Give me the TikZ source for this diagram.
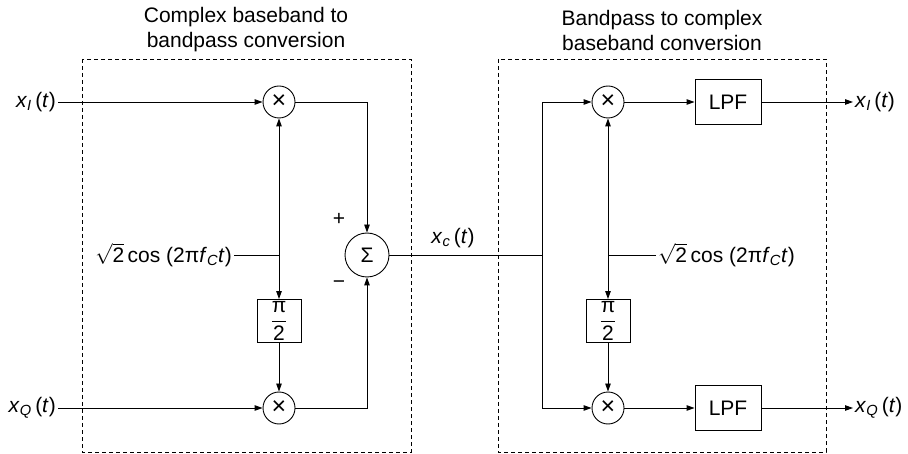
\documentclass[tikz,border=0pt]{standalone}
\usepackage{fontspec}
\setmainfont{Liberation Sans}
\usetikzlibrary{arrows.meta}
\newcommand{\sig}[1]{\textit{x}\textsubscript{\textit{#1}}\,(\textit{t})}
\newcommand{\osc}{$\sqrt{\mbox{2}}$\,cos (2π\textit{f}\textsubscript{\textit{C}}\textit{t})}
\newcommand{\halfpi}{$\displaystyle\frac{\mbox{π}}{\mbox{2}}$}
\begin{document}
\begin{tikzpicture}[x=1pt,y=-1pt,
  every node/.style={font=\fontsize{21}{25}\selectfont},
  wire/.style={line width=0.9pt},
  arr/.style={wire,-{Triangle[length=8pt,width=5.5pt]}},
  mult/.style={draw,circle,line width=0.9pt,minimum size=32pt,inner sep=0pt,font=\fontsize{25}{25}\selectfont},
  sumc/.style={draw,circle,line width=0.9pt,minimum size=44pt,inner sep=0pt},
  shiftbox/.style={draw,rectangle,line width=0.9pt,minimum width=44pt,minimum height=43pt,inner sep=0pt},
  lpf/.style={draw,rectangle,line width=0.9pt,minimum width=66pt,minimum height=45pt,inner sep=0pt},
  dbox/.style={draw,line width=0.7pt,dash pattern=on 4pt off 3pt},
  lbl/.style={inner sep=2pt}]
\useasboundingbox (0,0) rectangle (908,454);
% dashed enclosures
\draw[dbox] (82,59) rectangle (411,452);
\draw[dbox] (498,59) rectangle (826,452);
\node[align=center] (t1) at (246,30) {Complex baseband to\\bandpass conversion};
\node[align=center] (t2) at (662,30) {Bandpass to complex\\baseband conversion};
% left part
\node[mult] (m1) at (279,102) {×};
\node[mult] (m2) at (279,408) {×};
\node[sumc] (s) at (367,255) {Σ};
\node[shiftbox] (p1) at (279,321) {\halfpi};
\node[lbl,anchor=east] (xi) at (58,102) {\sig{I}};
\node[lbl,anchor=east] (xq) at (58,408) {\sig{Q}};
\node[lbl,anchor=east] (o1) at (234,255) {\osc};
\coordinate (j1) at (279,255);
\node (plus) at (339,219) {+};
\node (minus) at (339,285) {−};
\draw[arr] (xi.east) -- (m1.west);
\draw[arr] (xq.east) -- (m2.west);
\draw[wire] (o1.east) -- (j1);
\draw[arr] (j1) -- (m1.south);
\draw[arr] (j1) -- (p1.north);
\draw[arr] (p1.south) -- (m2.north);
\draw[arr] (m1.east) -| (s.north);
\draw[arr] (m2.east) -| (s.south);
% channel
\coordinate (jc) at (542,255);
\node (xc) at (453,238) {\textit{x}\textsubscript{\textit{c}}\,(\textit{t})};
\draw[wire] (s.east) -- (jc);
% right part
\node[mult] (m3) at (608,102) {×};
\node[mult] (m4) at (608,408) {×};
\node[shiftbox] (p2) at (608,321) {\halfpi};
\node[lpf] (l1) at (728,102) {LPF};
\node[lpf] (l2) at (728,408) {LPF};
\node[lbl,anchor=west] (yi) at (853,102) {\sig{I}};
\node[lbl,anchor=west] (yq) at (853,408) {\sig{Q}};
\node[lbl,anchor=west] (o2) at (656,255) {\osc};
\coordinate (j2) at (608,255);
\draw[arr] (jc) |- (m3.west);
\draw[arr] (jc) |- (m4.west);
\draw[wire] (o2.west) -- (j2);
\draw[arr] (j2) -- (m3.south);
\draw[arr] (j2) -- (p2.north);
\draw[arr] (p2.south) -- (m4.north);
\draw[arr] (m3.east) -- (l1.west);
\draw[arr] (m4.east) -- (l2.west);
\draw[arr] (l1.east) -- (yi.west);
\draw[arr] (l2.east) -- (yq.west);
\end{tikzpicture}
\end{document}
